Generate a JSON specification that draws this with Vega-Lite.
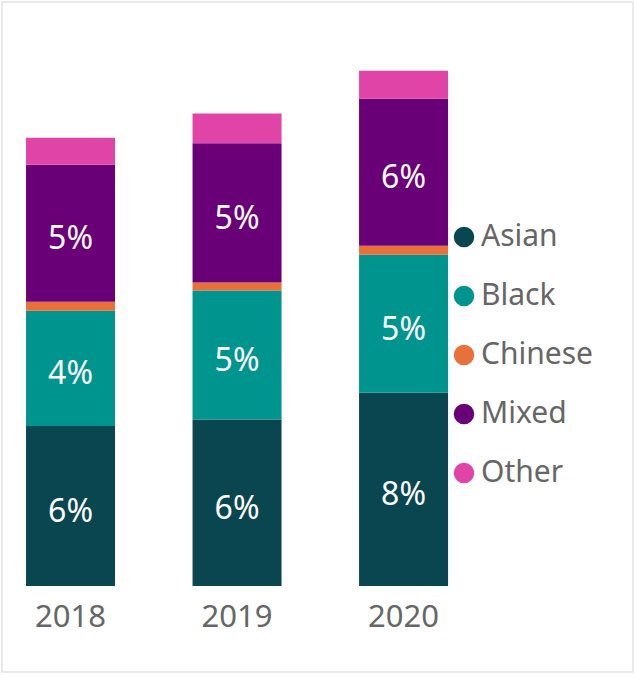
{
  "$schema": "https://vega.github.io/schema/vega-lite/v6.json",
  "width": 631,
  "height": 670,
  "padding": {"left": 2, "top": 2, "right": 2, "bottom": 2},
  "autosize": {"type": "pad"},
  "background": "#ffffff",
  "config": {
    "view": {"stroke": "#e3e3e3", "strokeWidth": 1.5},
    "font": "Noto Sans"
  },
  "data": {
    "values": [
      {"year": "2018", "category": "Asian", "value": 0.0622},
      {"year": "2018", "category": "Black", "value": 0.0449},
      {"year": "2018", "category": "Chinese", "value": 0.0035},
      {"year": "2018", "category": "Mixed", "value": 0.0533},
      {"year": "2018", "category": "Other", "value": 0.0105},
      {"year": "2019", "category": "Asian", "value": 0.0648},
      {"year": "2019", "category": "Black", "value": 0.0502},
      {"year": "2019", "category": "Chinese", "value": 0.0031},
      {"year": "2019", "category": "Mixed", "value": 0.0541},
      {"year": "2019", "category": "Other", "value": 0.0116},
      {"year": "2020", "category": "Asian", "value": 0.0752},
      {"year": "2020", "category": "Black", "value": 0.0537},
      {"year": "2020", "category": "Chinese", "value": 0.0035},
      {"year": "2020", "category": "Mixed", "value": 0.0572},
      {"year": "2020", "category": "Other", "value": 0.0109}
    ]
  },
  "encoding": {
    "x": {
      "field": "year",
      "type": "ordinal",
      "scale": {"paddingInner": 0.4655, "paddingOuter": 0.6275, "align": 0.115},
      "axis": {
        "title": null,
        "labelAngle": 0,
        "domain": false,
        "ticks": false,
        "labelFontSize": 31,
        "labelFont": "Noto Sans",
        "labelColor": "#666666",
        "labelPadding": 0,
        "labelBaseline": "top",
        "offset": -70
      }
    }
  },
  "layer": [
    {
      "mark": {"type": "bar"},
      "encoding": {
        "y": {
          "field": "value",
          "type": "quantitative",
          "stack": "zero",
          "scale": {"domain": [-0.03346, 0.2272], "nice": false, "zero": false},
          "axis": null
        },
        "color": {
          "field": "category",
          "type": "nominal",
          "scale": {
            "domain": ["Asian", "Black", "Chinese", "Mixed", "Other"],
            "range": ["#0a4650", "#00948f", "#e8703a", "#6a0078", "#e044a7"]
          },
          "legend": {
            "orient": "none",
            "legendX": 447,
            "legendY": 220,
            "title": null,
            "symbolType": "circle",
            "symbolSize": 420,
            "symbolStrokeWidth": 0,
            "symbolOpacity": 1,
            "labelFontSize": 30,
            "labelFont": "Noto Sans",
            "labelColor": "#666666",
            "labelOffset": 2,
            "rowPadding": 29,
            "padding": 0
          }
        },
        "order": {"field": "category", "sort": "ascending"}
      }
    },
    {
      "transform": [
        {"stack": "value", "groupby": ["year"], "sort": [{"field": "category", "order": "ascending"}], "as": ["v0", "v1"]},
        {"filter": "datum.category == 'Asian' || datum.category == 'Black' || datum.category == 'Mixed'"},
        {"fold": ["v0", "v1"], "as": ["edgeKind", "edge"]}
      ],
      "mark": {"type": "text", "color": "#ffffff", "fontSize": 32, "font": "Noto Sans", "baseline": "middle", "align": "center", "dy": 6},
      "encoding": {
        "y": {
          "aggregate": "mean",
          "field": "edge",
          "type": "quantitative",
          "scale": {"domain": [-0.03346, 0.2272], "nice": false, "zero": false},
          "axis": null
        },
        "detail": {"field": "category"},
        "text": {"aggregate": "max", "field": "value", "type": "quantitative", "format": ".0%"}
      }
    }
  ]
}
